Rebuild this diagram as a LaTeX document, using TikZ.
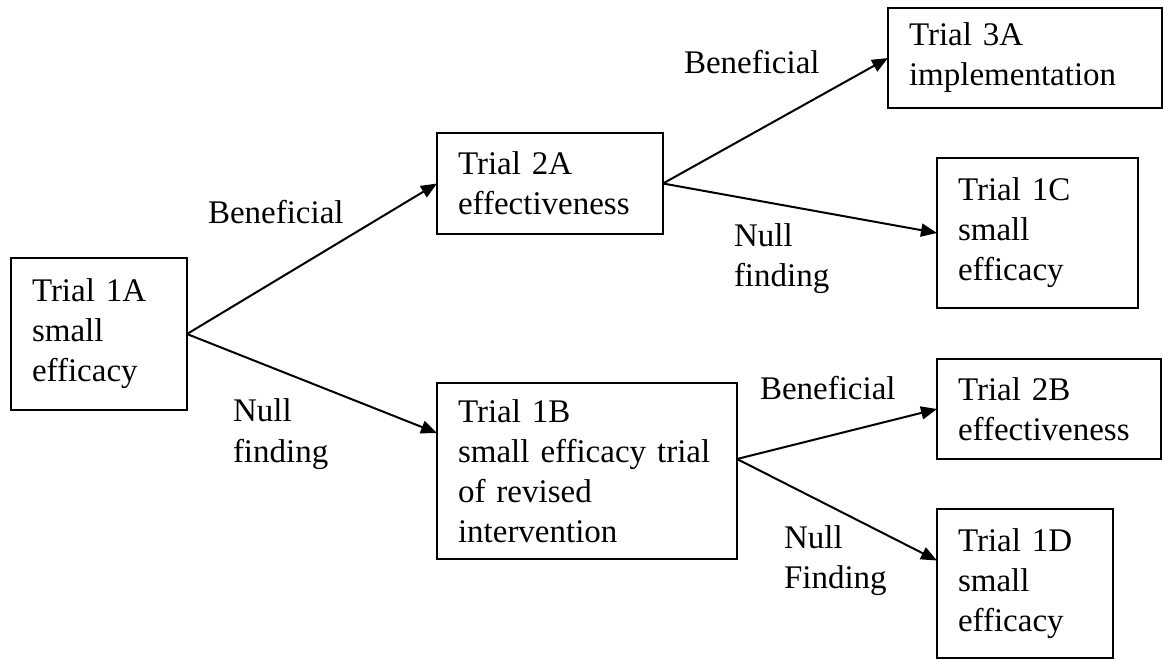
\documentclass[tikz,border=0pt]{standalone}
\usepackage{fontspec}
\setmainfont{Liberation Serif}
\usetikzlibrary{arrows.meta,positioning}
\tikzset{>={Triangle[length=16pt,width=13pt]}}
\tikzset{trialbox/.style={draw,line width=2pt,anchor=north west,align=left,
    inner xsep=21pt,inner ysep=0pt,outer sep=0pt,text width=#1},
  outcome/.style={anchor=base west,align=left,inner sep=0pt}}

\begin{document}
\begin{tikzpicture}[x=1pt,y=-1pt,font=\fontsize{33}{40}\selectfont,line width=2pt]
      \useasboundingbox (0,0) rectangle (1163,660);
      \node[trialbox=134pt,minimum height=152pt] (t1A) at (11,258) {Trial 1A\\small\\efficacy};
      \node[trialbox=184pt,minimum height=101pt] (t2A) at (437,133) {Trial 2A\\effectiveness};
      \node[trialbox=232pt,minimum height=100pt] (t3A) at (888,8) {Trial 3A\\implementation};
      \node[trialbox=159pt,minimum height=150pt] (t1C) at (937,158) {Trial 1C\\small\\efficacy};
      \node[trialbox=258pt,minimum height=176pt] (t1B) at (437,383) {Trial 1B\\small efficacy trial\\of revised\\intervention};
      \node[trialbox=182pt,minimum height=100pt] (t2B) at (937,359) {Trial 2B\\effectiveness};
      \node[trialbox=134pt,minimum height=149pt] (t1D) at (937,509) {Trial 1D\\small\\efficacy};
      \coordinate (fork1B) at ([yshift=12pt]t1B.east);
      \draw[->] (t1A.east) -- (t2A.west);
      \draw[->] (t1A.east) -- ([yshift=38pt]t1B.west);
      \draw[->] (t2A.east) -- (t3A.west);
      \draw[->] (t2A.east) -- (t1C.west);
      \draw[->] (fork1B) -- (t2B.west);
      \draw[->] (fork1B) -- ([yshift=23pt]t1D.west);
      \node[outcome] (benA) at (207,224) {Beneficial};
      \node[outcome] (nullA) at (232,462) {Null\\finding};
      \node[outcome] (ben2A) at (683,74) {Beneficial};
      \node[outcome] (null2A) at (733,287) {Null\\finding};
      \node[outcome] (ben1B) at (759,400) {Beneficial};
      \node[outcome] (null1B) at (783,588) {Null\\Finding};
\end{tikzpicture}
\end{document}
